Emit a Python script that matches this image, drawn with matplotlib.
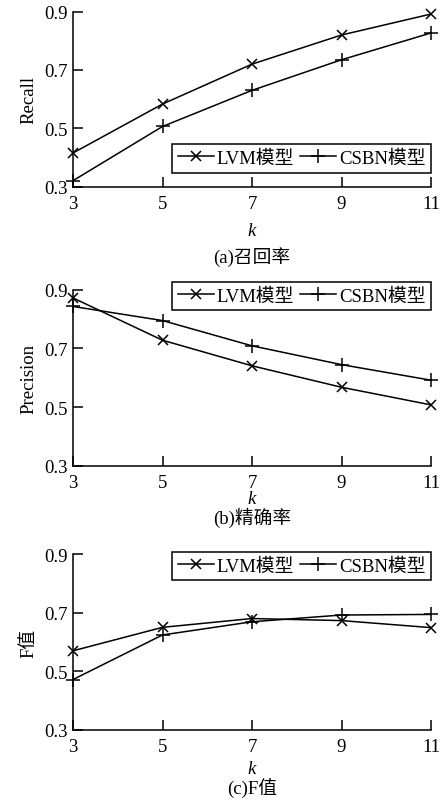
import matplotlib
matplotlib.use("Agg")
import matplotlib.pyplot as plt

plt.rcParams['font.family'] = ['Liberation Serif', 'Noto Sans CJK SC', 'DejaVu Sans']
plt.rcParams['font.size'] = 13.5

k = [3, 5, 7, 9, 11]

recall_lvm = [0.415, 0.583, 0.72, 0.82, 0.892]
recall_csbn = [0.32, 0.506, 0.63, 0.735, 0.827]
prec_lvm = [0.872, 0.728, 0.641, 0.568, 0.508]
prec_csbn = [0.843, 0.795, 0.709, 0.645, 0.592]
f_lvm = [0.57, 0.65, 0.68, 0.673, 0.649]
f_csbn = [0.472, 0.624, 0.669, 0.692, 0.694]

yticks = [0.3, 0.5, 0.7, 0.9]
ylabels = ['Recall', 'Precision', 'F值']
captions = ['(a)召回率', '(b)精确率', '(c)F值']

W, H = 444, 803
fig = plt.figure(figsize=(W / 100, H / 100), dpi=100)

# axes boxes in pixels: top, bottom
boxes = [(12.7, 187.5), (290.7, 467), (555, 731)]
left, right = 73, 431
legend_pos = [('lower right', (1.0, 14 / 175)), ('upper right', (1.0, 1.045)), ('upper right', (1.0, 1.012))]
klabel_y = [231, 500, 770]
cap_y = [257, 518, 788]

series = [(recall_lvm, recall_csbn), (prec_lvm, prec_csbn), (f_lvm, f_csbn)]

for i, (lvm, csbn) in enumerate(series):
    top, bot = boxes[i]
    ax = fig.add_axes([left / W, 1 - bot / H, (right - left) / W, (bot - top) / H])
    ax.plot(k, lvm, color='black', lw=1.1, marker='x', ms=7.5, mew=1.1, clip_on=False, label='LVM模型')
    ax.plot(k, csbn, color='black', lw=1.1, marker='+', ms=9.5, mew=1.1, clip_on=False, label='CSBN模型')
    ax.set_xlim(3, 11)
    ax.set_ylim(0.3, 0.9)
    ax.set_xticks(k)
    ax.set_yticks(yticks)
    ax.set_yticklabels([f'{v:.1f}' for v in yticks])
    ax.spines['top'].set_visible(False)
    ax.spines['right'].set_visible(False)
    for s in ('left', 'bottom'):
        ax.spines[s].set_linewidth(1.1)
    ax.tick_params(direction='in', length=7, width=1.1, labelsize=13.5)
    ax.tick_params(axis='x', pad=6)
    ax.tick_params(axis='y', pad=4)
    ax.set_ylabel(ylabels[i], fontsize=13.5, labelpad=5)
    loc, anchor = legend_pos[i]
    leg = ax.legend(loc=loc, bbox_to_anchor=anchor, borderaxespad=0, ncol=2, fancybox=False,
                    edgecolor='black', framealpha=1, fontsize=13.5, handlelength=1.9,
                    handletextpad=0.15, columnspacing=0.35, borderpad=0.3)
    leg.get_frame().set_linewidth(1.1)
    fig.text((left + right) / 2 / W, 1 - klabel_y[i] / H, 'k', style='italic',
             ha='center', va='center', fontsize=13.5)
    fig.text((left + right) / 2 / W, 1 - cap_y[i] / H, captions[i],
             ha='center', va='center', fontsize=13.5)

fig.savefig('out.png', dpi=100)
